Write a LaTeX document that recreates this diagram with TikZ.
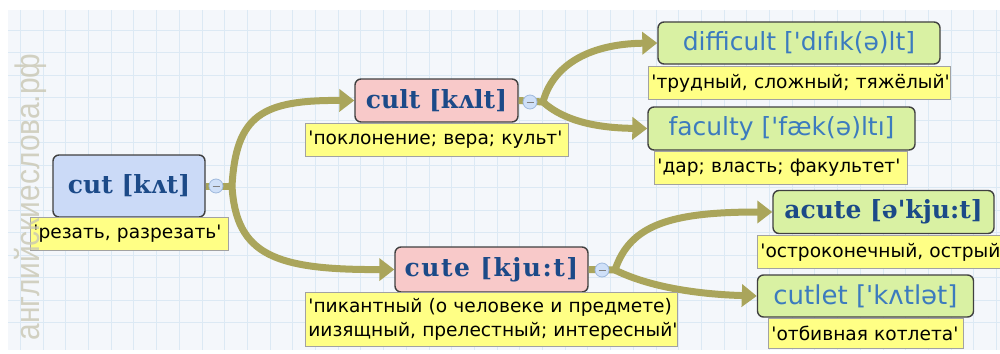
\documentclass[tikz,border=0pt]{standalone}
\usepackage{fontspec}
\setmainfont{DejaVu Sans}
\newfontfamily\labfont{DejaVu Sans}[Ligatures=TeXOff]
\newfontfamily\btitle{DejaVu Serif}[Ligatures=TeXOff]
\newfontfamily\ltitle{DejaVu Sans}[Ligatures=TeXOff]
\newfontfamily\wmfont{Liberation Sans}
\usetikzlibrary{arrows.meta}
\definecolor{gridbg}{HTML}{F4F7FB}
\definecolor{gridln}{HTML}{DCE9F4}
\definecolor{olive}{HTML}{AAA55B}
\definecolor{bluefill}{HTML}{CBDAF7}
\definecolor{pinkfill}{HTML}{F8C9C9}
\definecolor{greenfill}{HTML}{D9F1A3}
\definecolor{labfill}{HTML}{FFFF85}
\definecolor{labdraw}{HTML}{A2A2A2}
\definecolor{darkblue}{HTML}{1C4A88}
\definecolor{lightblue}{HTML}{3C7BBE}
\definecolor{circfill}{HTML}{CFE0F8}
\definecolor{circdraw}{HTML}{9FB9DD}
\definecolor{wmcol}{HTML}{C9C7B3}
\begin{document}
\begin{tikzpicture}[x=1pt,y=-1pt,
  titlebox/.style={draw=black!75, line width=1.4pt, rounded corners=6pt, inner sep=0pt},
  boldt/.style={titlebox, text=darkblue, font=\btitle\bfseries\fontsize{25}{25}\selectfont},
  lightt/.style={titlebox, text=lightblue, font=\ltitle\fontsize{25}{25}\selectfont},
  lab/.style={draw=labdraw, fill=labfill, line width=0.8pt, inner xsep=3pt, inner ysep=0pt,
    anchor=north west, minimum height=33pt, align=left, text=black,
    font=\labfont\fontsize{18.6}{23.5}\selectfont},
  conn/.style={draw=olive, line width=7pt},
  arr/.style={conn, -{Triangle[length=15pt,width=22pt]}},
  collapse/.style={circle, draw=circdraw, fill=circfill, line width=0.8pt, minimum size=14pt, inner sep=0pt,
    path picture={\draw[gray, line width=0.8pt] ([xshift=-3.5pt]path picture bounding box.center) -- ([xshift=3.5pt]path picture bounding box.center);}}
]
\useasboundingbox (0,0) rectangle (1000,353);
\clip (0,0) rectangle (1000,353);
% grid background
\fill[gridbg] (8,10) rectangle (1000,350);
\begin{scope}
\clip (8,10) rectangle (1000,350);
\foreach \i in {0,...,43} \draw[gridln, line width=0.8pt] ({20.3+22.7*\i},10) -- ({20.3+22.7*\i},350);
\foreach \j in {0,...,14} \draw[gridln, line width=0.8pt] (8,{7.5+22.5*\j}) -- (1000,{7.5+22.5*\j});
\end{scope}

% branch points
\coordinate (b1) at (232,186);
\coordinate (b2) at (543,102);
\coordinate (b3) at (615,270);

% title boxes
\node[boldt, fill=bluefill, minimum width=152pt, minimum height=62pt] (cut) at (129,186) {cut [kʌt]};
\node[boldt, fill=pinkfill, minimum width=163pt, minimum height=43pt] (cult) at (436.5,100.5) {cult [kʌlt]};
\node[lightt, fill=greenfill, minimum width=282pt, minimum height=42pt] (difficult) at (799,43) {difficult ['dıfık(ə)lt]};
\node[lightt, fill=greenfill, minimum width=267pt, minimum height=43pt] (faculty) at (781.5,128.5) {faculty ['fæk(ə)ltı]};
\node[boldt, fill=pinkfill, minimum width=193pt, minimum height=45pt] (cute) at (491.5,269.5) {\addfontfeature{LetterSpace=6}cute [kju:t]};
\node[boldt, fill=greenfill, minimum width=221pt, minimum height=43pt] (acute) at (883.5,212) {acute [ə'kju:t]};
\node[lightt, fill=greenfill, minimum width=216pt, minimum height=42pt, font=\ltitle\fontsize{26}{26}\selectfont] (cutlet) at (865.5,296) {cutlet ['kʌtlət]};

% connectors
\draw[conn] (cut.east) -- (b1);
\draw[arr] (b1) .. controls (236,115) and (262,100) .. (cult.west);
\draw[arr] (b1) .. controls (236,255) and (275,270) .. (cute.west);
\draw[conn] (cult.east) -- (b2);
\draw[arr] (b2) .. controls (552,68) and (585,44) .. (difficult.west);
\draw[arr] (b2) .. controls (565,122) and (600,128) .. (faculty.west);
\draw[conn] (cute.east) -- (b3);
\draw[arr] (b3) .. controls (630,225) and (670,212) .. (acute.west);
\draw[arr] (b3) .. controls (645,285) and (690,294) .. (cutlet.west);

% collapse circles
\node[collapse] (c1) at (216,186) {};
\node[collapse] (c2) at (530,102) {};
\node[collapse] (c3) at (602,270) {};

% labels
\node[lab, text width=192pt] (cutL) at (30,217) {\mbox{'резать, разрезать'}};
\node[lab, text width=257pt] (cultL) at (305,123) {\mbox{'поклонение; вера; культ'}};
\node[lab, text width=296pt] (difficultL) at (648,66) {\mbox{'трудный, сложный; тяжёлый'}};
\node[lab, text width=247pt] (facultyL) at (654,151) {\mbox{'дар; власть; факультет'}};
\node[lab, text width=366pt, minimum height=54pt] (cuteL) at (305,292) {\mbox{'пикантный (о человеке и предмете)}\\\mbox{иизящный, прелестный; интересный'}};
\node[lab, text width=245pt] (acuteL) at (757,235) {\mbox{'остроконечный, острый}};
\node[lab, text width=189pt, minimum height=30pt] (cutletL) at (768,318) {\mbox{'отбивная котлета'}};

% watermark
\node[rotate=90, text=wmcol, opacity=0.8, font=\wmfont\fontsize{34}{34}\selectfont] (wm) at (30,197) {\scalebox{0.88}[1]{английскиеслова.рф}};
\end{tikzpicture}
\end{document}
